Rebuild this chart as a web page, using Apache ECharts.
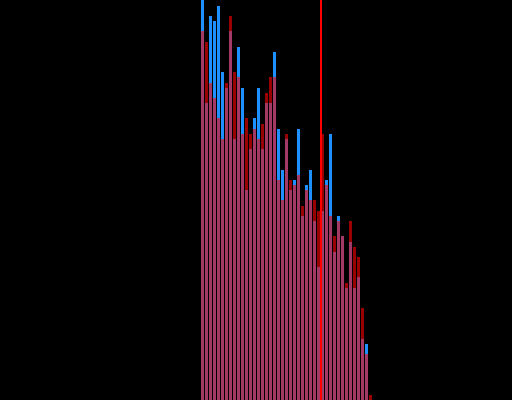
<!DOCTYPE html>
<html>
<head>
<meta charset="utf-8">
<script src="https://cdn.jsdelivr.net/npm/echarts@6/dist/echarts.min.js"></script>
<style>html,body{margin:0;padding:0;background:#000;}#c{width:512px;height:400px;}</style>
</head>
<body>
<div id="c"></div>
<script>
const bins = Array.from({length: 43}, (_, i) => String(i));
const blueValues = [410, 297, 384, 379, 394, 328, 312, 369, 261, 353, 312, 210, 251, 282, 312, 251, 297, 297, 348, 271, 230, 261, 210, 220, 271, 184, 215, 230, 179, 133, 189, 220, 266, 148, 184, 164, 112, 158, 112, 123, 61, 56, 0];
const redValues = [369, 358, 317, 302, 282, 261, 317, 384, 328, 323, 266, 282, 266, 271, 261, 276, 307, 323, 323, 220, 200, 266, 220, 215, 225, 194, 210, 200, 200, 189, 266, 215, 184, 164, 179, 164, 117, 179, 153, 143, 92, 46, 5];
const markerPosition = 30.125;
const yMax = 400;

const chart = echarts.init(document.getElementById('c'));
chart.setOption({
  backgroundColor: '#000000',
  animation: false,
  grid: {left: 200.5, width: 172, top: 0, bottom: 0, containLabel: false},
  xAxis: [
    {type: 'category', data: bins, show: false, boundaryGap: true},
    {type: 'value', min: 0, max: bins.length, show: false}
  ],
  yAxis: {type: 'value', min: 0, max: yMax, show: false, splitLine: {show: false}},
  series: [
    {type: 'bar', data: blueValues, barWidth: 3, barGap: '-100%',
     itemStyle: {color: '#1e90ff'}, clip: true},
    {type: 'bar', data: redValues, barWidth: 3, barGap: '-100%',
     itemStyle: {color: '#ff0000', opacity: 0.6}, clip: true},
    {type: 'line', xAxisIndex: 1, data: [], silent: true,
     markLine: {symbol: 'none', silent: true, label: {show: false},
       lineStyle: {color: '#ff0000', width: 2, type: 'solid', opacity: 1},
       data: [{xAxis: markerPosition}]}, z: 10}
  ]
});
</script>
</body>
</html>
